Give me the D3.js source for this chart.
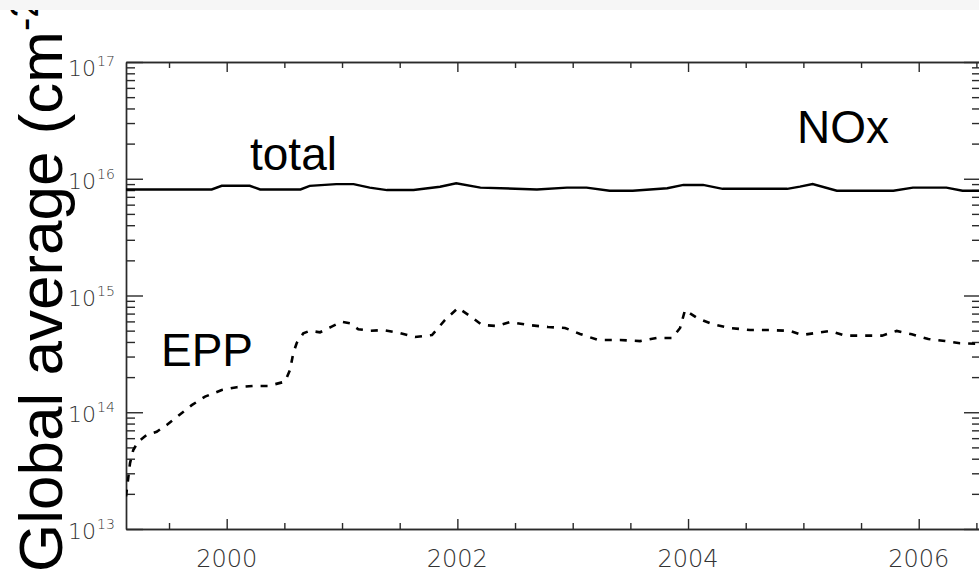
<!DOCTYPE html>
<html>
<head>
<meta charset="utf-8">
<script src="https://cdn.jsdelivr.net/npm/d3@7"></script>
<style>
  body { margin: 0; background: #fff; }
  svg { display: block; }
</style>
</head>
<body>
<svg id="chart" width="979" height="572"></svg>
<script>
// Global-average NOx column: total and the part from energetic particle precipitation (EPP)
const totalYears = [1999.127, 1999.87, 1999.957, 2000.20, 2000.29, 2000.64, 2000.72, 2000.95, 2001.10,
  2001.24, 2001.39, 2001.62, 2001.85, 2001.99, 2002.20, 2002.69, 2002.95, 2003.12, 2003.32, 2003.52,
  2003.82, 2003.96, 2004.13, 2004.30, 2004.86, 2004.97, 2005.08, 2005.29, 2005.78, 2005.95, 2006.24,
  2006.38, 2006.54];
const totalValues = [8.1e15, 8.1e15, 8.7e15, 8.7e15, 8.1e15, 8.1e15, 8.7e15, 9.0e15, 9.0e15,
  8.4e15, 8.0e15, 8.0e15, 8.55e15, 9.15e15, 8.4e15, 8.1e15, 8.4e15, 8.4e15, 7.9e15, 7.9e15,
  8.3e15, 8.85e15, 8.85e15, 8.2e15, 8.2e15, 8.55e15, 9.0e15, 7.9e15, 7.9e15, 8.4e15, 8.4e15,
  7.9e15, 7.9e15];

const eppYears = [1999.127, 1999.162, 1999.19, 1999.233, 1999.306, 1999.393, 1999.480, 1999.566,
  1999.697, 1999.812, 1999.957, 2000.087, 2000.231, 2000.361, 2000.506, 2000.549, 2000.577, 2000.607,
  2000.664, 2000.722, 2000.809, 2000.910, 2000.997, 2001.069, 2001.141, 2001.243, 2001.358, 2001.503,
  2001.633, 2001.780, 2001.893, 2002.006, 2002.110, 2002.214, 2002.344, 2002.457, 2002.613, 2002.786,
  2002.934, 2003.064, 2003.220, 2003.410, 2003.584, 2003.731, 2003.862, 2003.931, 2003.974, 2004.078,
  2004.208, 2004.364, 2004.537, 2004.711, 2004.884, 2004.986, 2005.086, 2005.231, 2005.361, 2005.543,
  2005.682, 2005.809, 2005.940, 2006.083, 2006.228, 2006.358, 2006.54];
const eppValues = [1.9e13, 3.67e13, 4.75e13, 5.6e13, 6.38e13, 6.81e13, 7.78e13, 9.1e13,
  1.15e14, 1.36e14, 1.55e14, 1.64e14, 1.68e14, 1.68e14, 1.83e14, 2.30e14, 3.2e14, 3.92e14,
  4.74e14, 4.99e14, 4.84e14, 5.41e14, 5.97e14, 5.78e14, 5.14e14, 4.99e14, 5.06e14, 4.77e14,
  4.41e14, 4.59e14, 6.17e14, 7.82e14, 6.67e14, 5.59e14, 5.48e14, 5.93e14, 5.59e14, 5.37e14,
  5.27e14, 4.68e14, 4.16e14, 4.16e14, 4.07e14, 4.33e14, 4.33e14, 5.27e14, 7.51e14, 6.42e14,
  5.70e14, 5.27e14, 5.06e14, 5.06e14, 4.97e14, 4.59e14, 4.74e14, 4.97e14, 4.53e14, 4.53e14,
  4.53e14, 4.97e14, 4.66e14, 4.24e14, 4.07e14, 3.90e14, 3.84e14];

const yearTickLabels = [2000, 2002, 2004, 2006];
const decadeExponents = [13, 14, 15, 16, 17];
const yTitle = "Global average (cm";
const yTitleUnitExp = "-2";
const seriesNames = { total: "total", epp: "EPP", species: "NOx" };

const svg = d3.select("#chart");
const plotLeft = 126, plotRight = 981, plotTop = 62, plotBottom = 529;
const axisColor = "#2a2a2a";
const tickFont = "'DejaVu Sans', 'Liberation Sans', sans-serif";

const x = d3.scaleLinear().domain([1999.127, 2006.54]).range([plotLeft, plotRight]);
const y = d3.scaleLog().domain([1e13, 1e17]).range([plotBottom, plotTop]);

// tick positions
const halfYears = d3.range(1999.5, 2006.75, 0.5).filter(v => !yearTickLabels.includes(v));
const minorDecade = [];
decadeExponents.slice(0, -1).forEach(e => {
  for (let k = 2; k <= 9; k++) minorDecade.push(k * Math.pow(10, e));
});
const majorDecade = decadeExponents.map(e => Math.pow(10, e));

function styleAxis(g) {
  g.select(".domain").attr("stroke", axisColor).attr("stroke-width", 1.4);
  g.selectAll(".tick line").attr("stroke", axisColor).attr("stroke-width", 1.4);
  g.selectAll(".tick text").remove();
}

// x axes (bottom and top), ticks pointing into the plot
[[d3.axisBottom, plotBottom], [d3.axisTop, plotTop]].forEach(([fn, ypos]) => {
  svg.append("g").attr("transform", `translate(0,${ypos})`)
    .call(fn(x).tickValues(halfYears).tickSize(-6).tickSizeOuter(0)).call(styleAxis);
  svg.append("g").attr("transform", `translate(0,${ypos})`)
    .call(fn(x).tickValues(yearTickLabels).tickSize(-10).tickSizeOuter(0)).call(styleAxis);
});

// y axes (left and right), ticks pointing into the plot
[[d3.axisLeft, plotLeft], [d3.axisRight, plotRight]].forEach(([fn, xpos]) => {
  svg.append("g").attr("transform", `translate(${xpos},0)`)
    .call(fn(y).tickValues(minorDecade).tickSize(-9).tickSizeOuter(0)).call(styleAxis);
  svg.append("g").attr("transform", `translate(${xpos},0)`)
    .call(fn(y).tickValues(majorDecade).tickSize(-17).tickSizeOuter(0)).call(styleAxis);
});

// x tick labels
svg.append("g").selectAll("text").data(yearTickLabels).join("text")
  .attr("x", d => x(d)).attr("y", 567)
  .attr("text-anchor", "middle")
  .attr("font-family", tickFont).attr("font-size", 24).attr("font-weight", 200)
  .attr("fill", "#333")
  .text(d => d);

// y tick labels as 10^n
const yLab = svg.append("g").selectAll("text").data(decadeExponents).join("text")
  .attr("x", 68).attr("y", d => y(Math.pow(10, d)) + (d === 17 ? 14 : 10))
  .attr("font-family", tickFont).attr("font-weight", 200).attr("fill", "#333");
yLab.append("tspan").attr("font-size", 22).text("10");
yLab.append("tspan").attr("font-size", 14).attr("dx", 1).attr("dy", -10).text(d => d);

// series
const line = d3.line().x(d => x(d[0])).y(d => y(d[1]));
svg.append("defs").append("clipPath").attr("id", "plotClip")
  .append("rect").attr("x", plotLeft).attr("y", plotTop)
  .attr("width", plotRight - plotLeft).attr("height", plotBottom - plotTop);

svg.append("path")
  .datum(d3.zip(totalYears, totalValues))
  .attr("clip-path", "url(#plotClip)")
  .attr("fill", "none").attr("stroke", "#000").attr("stroke-width", 2.4)
  .attr("d", line);

svg.append("path")
  .datum(d3.zip(eppYears, eppValues))
  .attr("clip-path", "url(#plotClip)")
  .attr("fill", "none").attr("stroke", "#000").attr("stroke-width", 2.6)
  .attr("stroke-dasharray", "7,8")
  .attr("d", line);

// in-plot labels
const labelFont = "'Liberation Sans', Arial, sans-serif";
[[seriesNames.total, 250, 170], [seriesNames.species, 797, 143], [seriesNames.epp, 161, 366]]
  .forEach(([t, lx, ly]) => {
    svg.append("text").attr("x", lx).attr("y", ly)
      .attr("font-family", labelFont).attr("font-size", 46).attr("fill", "#000").text(t);
  });

// y axis title, rotated
const title = svg.append("text")
  .attr("transform", "translate(62,572) rotate(-90)")
  .attr("font-family", labelFont).attr("font-size", 62).attr("fill", "#000");
title.append("tspan").text(yTitle);
title.append("tspan").attr("font-size", 40).attr("dy", -24).text(yTitleUnitExp);

// top band
svg.append("rect").attr("x", 0).attr("y", 0).attr("width", 979).attr("height", 10).attr("fill", "#f6f6f6");
</script>
</body>
</html>
